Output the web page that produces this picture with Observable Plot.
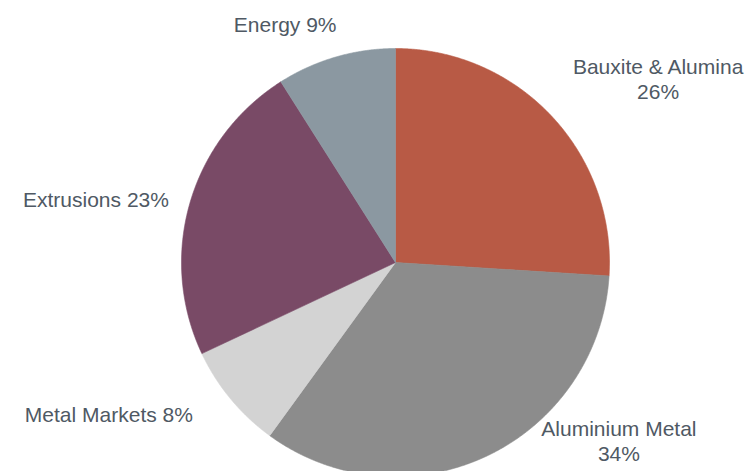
<!DOCTYPE html>
<html>
<head>
<meta charset="utf-8">
<script src="https://cdn.jsdelivr.net/npm/d3@7"></script>
<script src="https://cdn.jsdelivr.net/npm/@observablehq/plot@0.6"></script>
<style>
  html, body { margin: 0; padding: 0; background: #fff; overflow: hidden; }
  #chart svg { display: block; }
</style>
</head>
<body>
<div id="chart"></div>
<script>
// Segments, clockwise from 12 o'clock
const categories = ["Bauxite & Alumina", "Aluminium Metal", "Metal Markets", "Extrusions", "Energy"];
const shares = [26, 34, 8, 23, 9];
const labels = ["Bauxite & Alumina\n26%", "Aluminium Metal\n34%", "Metal Markets 8%", "Extrusions 23%", "Energy 9%"];
const colors = ["#b85a45", "#8c8c8c", "#d3d3d3", "#794a66", "#8b98a1"];
// label placement (polar: degrees clockwise from top, radius relative to pie radius)
const labelAngle = [55.0, 128.5, 242.2, 282.0, 335.2];
const labelRadius = [1.498, 1.334, 1.514, 1.431, 1.229];

const W = 748, H = 471;
const cx = 395, cy = 262, R = 214;

const arcs = d3.pie().sort(null).value(d => d)(shares);

const wedge = [];
arcs.forEach((a, i) => {
  const name = categories[i];
  wedge.push({name, x: 0, y: 0});
  const steps = Math.max(2, Math.ceil((a.endAngle - a.startAngle) / (Math.PI / 720)));
  for (let k = 0; k <= steps; k++) {
    const t = a.startAngle + (a.endAngle - a.startAngle) * k / steps;
    wedge.push({name, x: Math.sin(t), y: Math.cos(t)});
  }
  wedge.push({name, x: 0, y: 0});
});

const labelData = categories.map((c, i) => {
  const t = labelAngle[i] * Math.PI / 180;
  return {name: c, text: labels[i], x: labelRadius[i] * Math.sin(t), y: labelRadius[i] * Math.cos(t)};
});

const chart = Plot.plot({
  width: W,
  height: H,
  margin: 0,
  style: {fontFamily: "'Liberation Sans', Arial, sans-serif", background: "#fff"},
  x: {domain: [-1, 1], range: [cx - R, cx + R], axis: null},
  y: {domain: [-1, 1], range: [cy + R, cy - R], axis: null},
  color: {domain: categories, range: colors},
  marks: [
    Plot.line(wedge, {x: "x", y: "y", z: "name", fill: "name", stroke: "name", strokeWidth: 0.6, curve: "linear"}),
    Plot.text(labelData, {x: "x", y: "y", text: "text", fill: "#4f5964", fontSize: 21, lineHeight: 1.2, textAnchor: "middle"})
  ]
});
document.getElementById("chart").appendChild(chart);
</script>
</body>
</html>
